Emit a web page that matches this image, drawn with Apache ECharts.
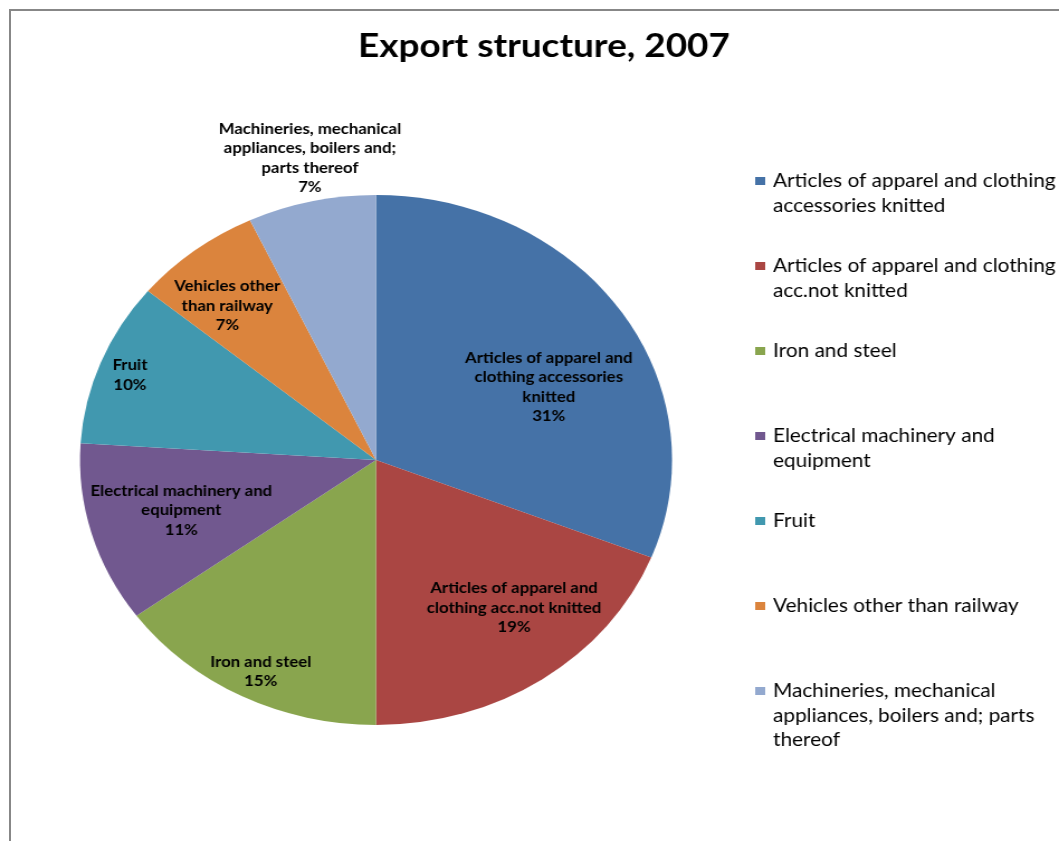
<!DOCTYPE html>
<html>
<head>
<meta charset="utf-8">
<script src="https://cdn.jsdelivr.net/npm/echarts/dist/echarts.min.js"></script>
<style>
html, body { margin: 0; padding: 0; background: #ffffff; overflow: hidden; width: 1059px; height: 841px; }
#frame { position: absolute; left: 9px; top: 9px; width: 1200px; height: 1000px;
         border-left: 2px solid #878787; border-top: 2px solid #878787; }
#chart { position: absolute; left: 0; top: 0; width: 948px; height: 841px;
         transform: scaleX(1.1171); transform-origin: 0 0; }
</style>
</head>
<body>
<div id="frame"></div>
<div id="chart"></div>
<script>
// ---- data ----
const categories = [
  'Articles of apparel and clothing accessories knitted',
  'Articles of apparel and clothing acc.not knitted',
  'Iron and steel',
  'Electrical machinery and equipment',
  'Fruit',
  'Vehicles other than railway',
  'Machineries, mechanical appliances, boilers and; parts thereof'
];
const values = [31, 19, 15, 11, 10, 7, 7];
const titleText = 'Export structure, 2007';
// wrapped texts as they appear in the slice labels and in the legend
const labelText = [
  'Articles of apparel and\nclothing accessories\nknitted',
  'Articles of apparel and\nclothing acc.not knitted',
  'Iron and steel',
  'Electrical machinery and\nequipment',
  'Fruit',
  'Vehicles other\nthan railway',
  'Machineries, mechanical\nappliances, boilers and;\nparts thereof'
];
const legendText = [
  'Articles of apparel and clothing\naccessories knitted',
  'Articles of apparel and clothing\nacc.not knitted',
  'Iron and steel',
  'Electrical machinery and\nequipment',
  'Fruit',
  'Vehicles other than railway',
  'Machineries, mechanical\nappliances, boilers and; parts\nthereof'
];

// ---- styles / layout ----
const colors = ['#4572A7', '#AA4643', '#89A54E', '#71588F', '#4198AF', '#DB843D', '#93A9CF'];
const CX = 336.6, CY = 460, R = 265;
// label placement: [fraction of radius, angular nudge in degrees]
const labelPlacement = [[0.645, -9], [0.727, 5.7], [0.888, 1], [0.685, 0], [0.891, 0.5], [0.769, 3], [1.16, -1.5]];
const legendFirstY = 181, legendStep = 85, legendLH = 24.5;
const FONT = 'Lato';

const total = values.reduce((a, b) => a + b, 0);
let acc = 0;
const midAngles = values.map(v => { const m = 90 - (acc + v / 2) / total * 360; acc += v; return m; });

const legends = categories.map((name, i) => {
  const k = legendText[i].split('\n').length;
  const blockH = (2 * k - 1) * legendLH;
  return {
    orient: 'vertical',
    left: 676,
    top: legendFirstY + i * legendStep - blockH / 2,
    padding: 0,
    data: [name],
    icon: 'rect',
    itemWidth: 9,
    itemHeight: 8,
    selectedMode: false,
    formatter: () => '\n'.repeat(k - 1) + legendText[i],
    textStyle: { fontFamily: FONT, fontSize: 18.6, lineHeight: legendLH, color: '#000', padding: [0, 0, 0, 2] }
  };
});

const chart = echarts.init(document.getElementById('chart'), null, { renderer: 'canvas' });
chart.setOption({
  animation: false,
  backgroundColor: 'transparent',
  title: {
    text: titleText,
    left: 487,
    top: 30,
    padding: 0,
    textAlign: 'center',
    textStyle: { fontFamily: FONT, fontWeight: 'bold', fontSize: 33, color: '#000' }
  },
  legend: legends,
  series: [{
    type: 'pie',
    center: [CX, CY],
    radius: R,
    startAngle: 90,
    clockwise: true,
    avoidLabelOverlap: false,
    emphasis: { disabled: true },
    itemStyle: { borderWidth: 0 },
    label: {
      show: true,
      position: 'inside',
      formatter: p => labelText[p.dataIndex] + '\n' + Math.round(p.percent) + '%',
      fontFamily: FONT,
      fontWeight: 'bold',
      fontSize: 15,
      lineHeight: 19.5,
      color: '#000',
      align: 'center'
    },
    labelLine: { show: false },
    labelLayout: p => {
      const pl = labelPlacement[p.dataIndex];
      const a = (midAngles[p.dataIndex] + pl[1]) * Math.PI / 180;
      return { x: CX + pl[0] * R * Math.cos(a), y: CY - pl[0] * R * Math.sin(a), align: 'center', verticalAlign: 'middle' };
    },
    data: categories.map((n, i) => ({ name: n, value: values[i], itemStyle: { color: colors[i] } }))
  }]
});
</script>
</body>
</html>
